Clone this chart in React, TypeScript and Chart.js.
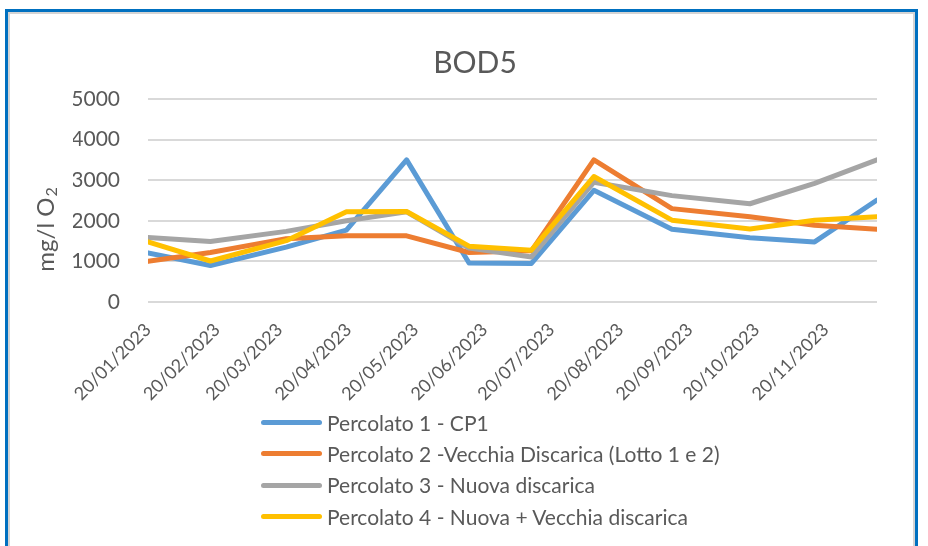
import React, { useEffect, useRef } from "react";
import { Chart, registerables } from "chart.js";

Chart.register(...registerables);

// ---- data ----
const sampleDates = [
  "2023-01-20", "2023-02-17", "2023-03-23", "2023-04-19", "2023-05-16", "2023-06-13",
  "2023-07-11", "2023-08-08", "2023-09-12", "2023-10-17", "2023-11-15", "2023-12-13",
];
const tickDates = [
  "2023-01-20", "2023-02-20", "2023-03-20", "2023-04-20", "2023-05-20", "2023-06-20",
  "2023-07-20", "2023-08-20", "2023-09-20", "2023-10-20", "2023-11-20",
];
const tickLabels = [
  "20/01/2023", "20/02/2023", "20/03/2023", "20/04/2023", "20/05/2023", "20/06/2023",
  "20/07/2023", "20/08/2023", "20/09/2023", "20/10/2023", "20/11/2023",
];
const yTickValues = [0, 1000, 2000, 3000, 4000, 5000];
const yTickLabels = ["0", "1000", "2000", "3000", "4000", "5000"];

const seriesNames = [
  "Percolato 1 - CP1",
  "Percolato 2 -Vecchia Discarica (Lotto 1 e 2)",
  "Percolato 3 - Nuova discarica",
  "Percolato 4 - Nuova + Vecchia discarica",
];
const seriesColors = ["#5B9BD5", "#ED7D31", "#A5A5A5", "#FFC000"];

const percolato1 = [1210, 900, 1350, 1770, 3500, 960, 950, 2750, 1790, 1580, 1480, 2510];
const percolato2 = [1000, 1220, 1560, 1630, 1630, 1220, 1260, 3500, 2300, 2100, 1890, 1790];
const percolato3 = [1590, 1490, 1740, 2000, 2220, 1330, 1110, 2950, 2620, 2420, 2920, 3500];
const percolato4 = [1480, 1010, 1510, 2220, 2230, 1375, 1275, 3090, 2015, 1800, 2015, 2100];
const seriesValues = [percolato1, percolato2, percolato3, percolato4];

const chartTitle = "BOD5";
const yTitleMain = "mg/l O";
const yTitleSub = "2";

// ---- helpers ----
const DAY = 86400000;
const dayNum = (s: string) =>
  Date.UTC(+s.slice(0, 4), +s.slice(5, 7) - 1, +s.slice(8, 10)) / DAY;

const TEXT = "#595959";
const FONT = "Lato";

const yTitlePlugin = {
  id: "yTitleSub",
  afterDraw(chart: any) {
    const ctx = chart.ctx as CanvasRenderingContext2D;
    ctx.save();
    ctx.translate(46, 230);
    ctx.rotate(-Math.PI / 2);
    ctx.fillStyle = TEXT;
    ctx.textBaseline = "middle";
    ctx.textAlign = "left";
    ctx.font = `24px ${FONT}`;
    const w1 = ctx.measureText(yTitleMain).width;
    ctx.font = `16px ${FONT}`;
    const w2 = ctx.measureText(yTitleSub).width;
    const start = -(w1 + w2) / 2;
    ctx.font = `24px ${FONT}`;
    ctx.fillText(yTitleMain, start, 0);
    ctx.font = `16px ${FONT}`;
    ctx.fillText(yTitleSub, start + w1 + 1, 6);
    ctx.restore();
  },
};

export default function App() {
  const canvasRef = useRef<HTMLCanvasElement>(null);

  useEffect(() => {
    if (!canvasRef.current) return;
    const datasets = seriesValues.map((vals, i) => ({
      label: seriesNames[i],
      data: vals.map((v, j) => ({ x: dayNum(sampleDates[j]), y: v })),
      borderColor: seriesColors[i],
      backgroundColor: seriesColors[i],
      borderWidth: 5,
      pointRadius: 0,
      pointHoverRadius: 0,
      tension: 0,
      fill: false,
      borderJoinStyle: "round" as const,
      borderCapStyle: "round" as const,
      order: seriesValues.length - 1 - i,
    }));

    const chart = new Chart(canvasRef.current, {
      type: "line",
      data: { datasets },
      options: {
        animation: false,
        responsive: true,
        maintainAspectRatio: false,
        layout: { padding: { left: 73, right: 51, top: 0, bottom: 0 } },
        plugins: {
          legend: { display: false },
          tooltip: { enabled: false },
          title: {
            display: true,
            text: chartTitle,
            color: TEXT,
            font: { family: FONT, size: 30, weight: "normal" },
            padding: { top: 45, bottom: 18 },
          },
        },
        scales: {
          x: {
            type: "linear",
            min: dayNum(sampleDates[0]),
            max: dayNum(sampleDates[sampleDates.length - 1]),
            afterBuildTicks: (scale: any) => {
              scale.ticks = tickDates.map((d) => ({ value: dayNum(d) }));
            },
            afterFit: (scale: any) => {
              scale.height = 244;
            },
            grid: { display: false, drawTicks: false },
            border: { display: false },
            ticks: {
              autoSkip: false,
              minRotation: 45,
              maxRotation: 45,
              padding: 17,
              color: TEXT,
              font: { family: FONT, size: 18 },
              callback: (value: any) => {
                const idx = tickDates.findIndex((d) => dayNum(d) === value);
                return idx >= 0 ? tickLabels[idx] : "";
              },
            },
          },
          y: {
            min: 0,
            max: 5000,
            afterBuildTicks: (scale: any) => {
              scale.ticks = yTickValues.map((v) => ({ value: v }));
            },
            afterFit: (scale: any) => {
              scale.width = 75;
            },
            grid: { color: "#D9D9D9", lineWidth: 2, drawTicks: false },
            border: { display: false },
            ticks: {
              padding: 28,
              color: TEXT,
              font: { family: FONT, size: 21 },
              callback: (value: any) => {
                const idx = yTickValues.indexOf(value);
                return idx >= 0 ? yTickLabels[idx] : "";
              },
            },
          },
        },
      },
      plugins: [yTitlePlugin],
    } as any);
    return () => chart.destroy();
  }, []);

  return (
    <div
      style={{
        position: "absolute",
        left: 0,
        top: 0,
        width: 928,
        height: 546,
        background: "#ffffff",
        overflow: "hidden",
        fontFamily: FONT,
      }}
    >
      <div
        style={{
          position: "absolute",
          left: 5,
          top: 9,
          width: 907,
          height: 600,
          border: "3px solid #0070C0",
          borderBottom: "none",
          boxShadow: "inset 0 0 0 2px #D4D4D4",
        }}
      />
      <div style={{ position: "absolute", left: 0, top: 0, width: 928, height: 546 }}>
        <canvas ref={canvasRef} />
      </div>
      <div style={{ position: "absolute", left: 261, top: 407 }}>
        {seriesNames.map((name, i) => (
          <div
            key={name}
            style={{ display: "flex", alignItems: "center", height: 31.3, whiteSpace: "nowrap" }}
          >
            <span
              style={{
                display: "inline-block",
                width: 61,
                height: 5,
                borderRadius: 2.5,
                background: seriesColors[i],
              }}
            />
            <span style={{ marginLeft: 5, fontSize: 21, color: TEXT, lineHeight: "24px" }}>{name}</span>
          </div>
        ))}
      </div>
    </div>
  );
}
